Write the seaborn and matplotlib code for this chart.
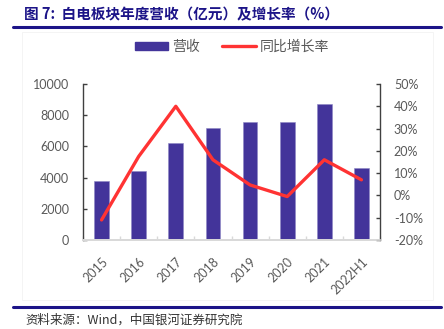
import matplotlib
matplotlib.use("Agg")
import matplotlib.pyplot as plt
import seaborn as sns
import numpy as np
from matplotlib.patches import Patch, Rectangle
from matplotlib.lines import Line2D
from matplotlib.ticker import FuncFormatter, FixedLocator

years = ["2015", "2016", "2017", "2018", "2019", "2020", "2021", "2022H1"]
revenue = [3780, 4450, 6220, 7200, 7560, 7540, 8720, 4630]
growth = [-11, 17.5, 40, 16, 4.7, -0.5, 16, 7]
left_ticks = [0, 2000, 4000, 6000, 8000, 10000]
right_ticks = [-20, -10, 0, 10, 20, 30, 40, 50]

title = "图 7:  白电板块年度营收（亿元）及增长率（%）"
source = "资料来源：Wind，中国银河证券研究院"
bar_label = "营收"
line_label = "同比增长率"

sns.set_theme(style="white")
plt.rcParams['font.family'] = ['Lato', 'Noto Sans CJK SC', 'DejaVu Sans']

W, H = 444, 329
fig = plt.figure(figsize=(W / 100, H / 100), dpi=100)

BAR = "#43349a"
RED = "#ff3333"
GRAY = "#595959"
NAVY = "#1c1488"

ax = fig.add_axes([83 / W, 1 - 240 / H, (380 - 83) / W, (240 - 84) / H])
sns.barplot(x=years, y=revenue, ax=ax, color=BAR, width=0.4, saturation=1, edgecolor="#8d86c4", linewidth=0.4)
ax.set_xlim(-0.5, len(years) - 0.5)
ax.set_ylim(0, 10000)
ax.yaxis.set_major_locator(FixedLocator(left_ticks))
ax.set_xlabel("")
ax.set_ylabel("")

ax2 = ax.twinx()
sns.lineplot(x=np.arange(len(years)), y=growth, ax=ax2, color=RED, linewidth=2.4, solid_capstyle="round")
ax2.set_ylim(-20, 50)
ax2.yaxis.set_major_locator(FixedLocator(right_ticks))
ax2.yaxis.set_major_formatter(FuncFormatter(lambda v, p: f"{v:.0f}%"))
ax2.set_ylabel("")
ax.set_xlim(-0.5, len(years) - 0.5)

for a in (ax, ax2):
    a.set_facecolor("none")
    a.spines["top"].set_visible(False)
    a.spines["bottom"].set_color("#d9d9d9")
    a.spines["left"].set_color("#404040")
    a.spines["right"].set_color("#404040")
    a.spines["left"].set_linewidth(1.0)
    a.spines["right"].set_linewidth(1.0)
ax.spines["right"].set_visible(False)
ax2.spines["left"].set_visible(False)

ax.tick_params(axis="y", direction="in", length=3, width=1, color="#404040",
               labelsize=9, labelcolor=GRAY, pad=10, left=True)
ax2.tick_params(axis="y", direction="in", length=3, width=1, color="#404040",
                labelsize=9, labelcolor=GRAY, pad=10, right=True)
ax.set_xticks(np.arange(len(years)))
ax.set_xticklabels(years, rotation=45, ha="right", rotation_mode="anchor")
ax.tick_params(axis="x", which="major", length=0, labelsize=9, labelcolor=GRAY, pad=11)
ax.set_xticks(np.arange(len(years) + 1) - 0.5, minor=True)
ax.tick_params(axis="x", which="minor", direction="in", length=3, color="#d9d9d9", bottom=True)

# legend
handles = [Patch(facecolor=BAR, edgecolor=BAR), Line2D([0], [0], color=RED, linewidth=2.4)]
leg = fig.legend(handles, [bar_label, line_label], loc="center", bbox_to_anchor=(232 / W, 1 - 47 / H),
                 ncol=2, frameon=False, fontsize=10, handlelength=2.4, handleheight=0.55,
                 columnspacing=1.6, handletextpad=0.3)
for t in leg.get_texts():
    t.set_color(GRAY)
    t.set_family(['Noto Sans CJK SC', 'DejaVu Sans'])

# title and rules
fig.text(24 / W, 1 - 14 / H, title, ha="left", va="center", fontsize=10.5, fontweight="bold",
         color=NAVY, family=['Noto Sans CJK SC', 'DejaVu Sans'])
fig.add_artist(Line2D([13 / W, 441 / W], [1 - 27 / H, 1 - 27 / H], color=NAVY, linewidth=2.2))
fig.add_artist(Line2D([13 / W, 441 / W], [1 - 307 / H, 1 - 307 / H], color=NAVY, linewidth=2.2))
fig.add_artist(Rectangle((22 / W, 1 - 300 / H), (433 - 22) / W, (300 - 32) / H, fill=False,
                         edgecolor="#f3f3f3", linewidth=0.6))
fig.text(25 / W, 1 - 320 / H, source, ha="left", va="center", fontsize=9, style="italic",
         color="#333333", family=['Noto Sans CJK SC', 'DejaVu Sans'])

fig.savefig("out.png", dpi=100, facecolor="white")
